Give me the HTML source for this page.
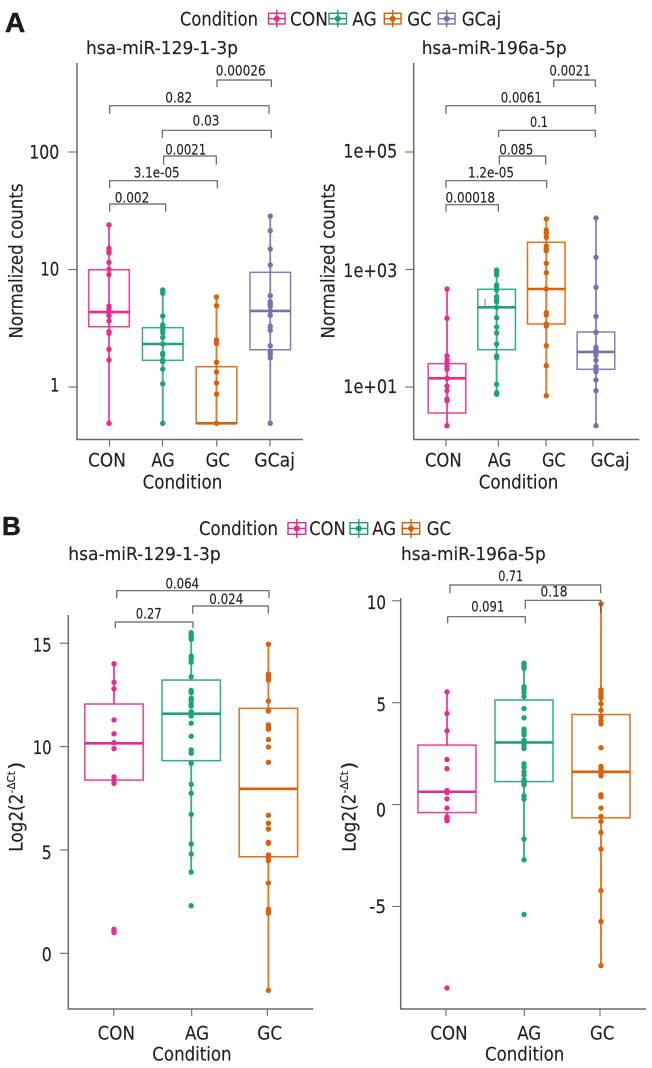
<!DOCTYPE html>
<html lang="en">
<head>
<meta charset="utf-8">
<title>miRNA expression boxplots</title>
<style>
html,body{margin:0;padding:0;background:#fff;width:652px;height:1068px;overflow:hidden}
svg{display:block}
text{font-family:"DejaVu Sans","Liberation Sans",sans-serif;fill:#231f1c;stroke:#231f1c;stroke-width:0.15}
</style>
</head>
<body>
<svg id="chart" xmlns="http://www.w3.org/2000/svg" width="652" height="1068" viewBox="0 0 652 1068">
  <rect x="0" y="0" width="652" height="1068" fill="#fff"/>

  <text x="5" y="32" style="font:bold 28px 'Liberation Sans',sans-serif;fill:#1d1a18;stroke:#1d1a18;stroke-width:0.5">A</text>
  <text x="2" y="535" style="font:bold 26px 'Liberation Sans',sans-serif;fill:#1d1a18;stroke:#1d1a18;stroke-width:0.5">B</text>

  <g>
    <text x="180" y="25.5" font-size="18.5" textLength="78" lengthAdjust="spacingAndGlyphs">Condition</text>
    <g stroke="#e7298a" fill="none" stroke-width="1.4"><rect x="268.5" y="13.3" width="16.5" height="10.7"/><path d="M276.8 10V27.3M268.5 18.7H285"/><circle cx="276.8" cy="18.7" r="2.3" fill="#e7298a"/></g>
    <text x="290" y="25.5" font-size="18.5" textLength="38" lengthAdjust="spacingAndGlyphs">CON</text>
    <g stroke="#1b9e77" fill="none" stroke-width="1.4"><rect x="329" y="13.3" width="17.5" height="10.7"/><path d="M337.8 10V27.3M329 18.7H346.5"/><circle cx="337.8" cy="18.7" r="2.3" fill="#1b9e77"/></g>
    <text x="352.3" y="25.5" font-size="18.5" textLength="24.4" lengthAdjust="spacingAndGlyphs">AG</text>
    <g stroke="#d95f02" fill="none" stroke-width="1.4"><rect x="384.3" y="13.3" width="16.7" height="10.7"/><path d="M392.7 10V27.3M384.3 18.7H401"/><circle cx="392.7" cy="18.7" r="2.3" fill="#d95f02"/></g>
    <text x="407.3" y="25.5" font-size="18.5" textLength="24.4" lengthAdjust="spacingAndGlyphs">GC</text>
    <g stroke="#7570b3" fill="none" stroke-width="1.4"><rect x="438.3" y="13.3" width="16.7" height="10.7"/><path d="M446.7 10V27.3M438.3 18.7H455"/><circle cx="446.7" cy="18.7" r="2.3" fill="#7570b3"/></g>
    <text x="461.7" y="25.5" font-size="18.5" textLength="39.5" lengthAdjust="spacingAndGlyphs">GCaj</text>
  </g>

  <g>
    <text x="199" y="535" font-size="18.5" textLength="79" lengthAdjust="spacingAndGlyphs">Condition</text>
    <g stroke="#e7298a" fill="none" stroke-width="1.4"><rect x="288" y="522.7" width="17.7" height="11.6"/><path d="M296.8 519V538M288 528.5H305.7"/><circle cx="296.8" cy="528.5" r="2.3" fill="#e7298a"/></g>
    <text x="309.3" y="535" font-size="18.5" textLength="36.4" lengthAdjust="spacingAndGlyphs">CON</text>
    <g stroke="#1b9e77" fill="none" stroke-width="1.4"><rect x="350" y="522.7" width="17.7" height="11.6"/><path d="M358.8 519V538M350 528.5H367.7"/><circle cx="358.8" cy="528.5" r="2.3" fill="#1b9e77"/></g>
    <text x="372.3" y="535" font-size="18.5" textLength="23.7" lengthAdjust="spacingAndGlyphs">AG</text>
    <g stroke="#d95f02" fill="none" stroke-width="1.4"><rect x="402.3" y="522.7" width="17.4" height="11.6"/><path d="M411 519V538M402.3 528.5H419.7"/><circle cx="411" cy="528.5" r="2.3" fill="#d95f02"/></g>
    <text x="426.7" y="535" font-size="18.5" textLength="24.3" lengthAdjust="spacingAndGlyphs">GC</text>
  </g>

  <text x="86" y="54" font-size="18" textLength="152" lengthAdjust="spacingAndGlyphs">hsa-miR-129-1-3p</text>
  <text x="421.7" y="54" font-size="18" textLength="145" lengthAdjust="spacingAndGlyphs">hsa-miR-196a-5p</text>
  <text x="68.3" y="560" font-size="18" textLength="152.4" lengthAdjust="spacingAndGlyphs">hsa-miR-129-1-3p</text>
  <text x="401" y="560" font-size="18" textLength="144.7" lengthAdjust="spacingAndGlyphs">hsa-miR-196a-5p</text>

  <text transform="translate(22.3,338.5) rotate(-90)" font-size="18.5" textLength="155" lengthAdjust="spacingAndGlyphs">Normalized counts</text>
  <text transform="translate(334.5,338.5) rotate(-90)" font-size="18.5" textLength="155" lengthAdjust="spacingAndGlyphs">Normalized counts</text>

  <g transform="translate(22.3,851.7) rotate(-90)">
    <text x="0" y="0" font-size="18.5" textLength="58" lengthAdjust="spacingAndGlyphs">Log2(2</text>
    <text x="58.5" y="-7.5" font-size="11" textLength="22" lengthAdjust="spacingAndGlyphs">-ΔCt</text>
    <text x="82" y="0" font-size="18.5" textLength="8" lengthAdjust="spacingAndGlyphs">)</text>
  </g>
  <g transform="translate(355.7,851.7) rotate(-90)">
    <text x="0" y="0" font-size="18.5" textLength="58" lengthAdjust="spacingAndGlyphs">Log2(2</text>
    <text x="58.5" y="-7.5" font-size="11" textLength="22" lengthAdjust="spacingAndGlyphs">-ΔCt</text>
    <text x="82" y="0" font-size="18.5" textLength="8" lengthAdjust="spacingAndGlyphs">)</text>
  </g>

  <text x="142.6" y="488.3" font-size="18.5" textLength="79.7" lengthAdjust="spacingAndGlyphs">Condition</text>
  <text x="478.7" y="488.3" font-size="18.5" textLength="79.7" lengthAdjust="spacingAndGlyphs">Condition</text>
  <text x="152.3" y="1060.7" font-size="18.5" textLength="79.3" lengthAdjust="spacingAndGlyphs">Condition</text>
  <text x="485" y="1060.7" font-size="18.5" textLength="79.3" lengthAdjust="spacingAndGlyphs">Condition</text>
</svg>

<script>
/* ---------- shared categories ---------- */
var conditionsA = ['CON', 'AG', 'GC', 'GCaj'];
var conditionsB = ['CON', 'AG', 'GC'];

/* ---------- Panel A, hsa-miR-129-1-3p (log10 normalized counts) ---------- */
var a1TickValues = [0, 1, 2];
var a1TickLabels = ['1', '10', '100'];
var a1Con = [1.379, 1.179, 1.16, 1.14, 1.061, 1.002, 0.956, 0.689, 0.661, 0.641, 0.607, 0.562, 0.471, 0.457, 0.321, 0.23, -0.309];
var a1Ag = [0.826, 0.811, 0.797, 0.604, 0.528, 0.508, 0.485, 0.462, 0.423, 0.366, 0.287, 0.272, 0.23, 0.215, 0.153, 0.028, -0.309];
var a1Gc = [0.766, 0.692, 0.4, 0.386, 0.369, 0.21, 0.128, 0.034, -0.06, -0.309];
var a1Gcaj = [1.455, 1.33, 1.174, 1.038, 0.777, 0.726, 0.705, 0.685, 0.647, 0.61, 0.517, 0.483, 0.351, 0.3, 0.281, 0.249, -0.309];
var a1Q1 = [0.513, 0.227, -0.309, 0.317];
var a1Median = [0.638, 0.366, -0.309, 0.647];
var a1Q3 = [0.998, 0.505, 0.173, 0.976];
var a1PValues = ['0.00026', '0.82', '0.03', '0.0021', '3.1e-05', '0.002'];

/* ---------- Panel A, hsa-miR-196a-5p (log10 normalized counts) ---------- */
var a2TickValues = [1, 3, 5];
var a2TickLabels = ['1e+01', '1e+03', '1e+05'];
var a2Con = [2.668, 2.169, 1.528, 1.46, 1.403, 1.346, 1.301, 1.148, 1.017, 0.937, 0.796, 0.767, 0.341];
var a2Ag = [2.991, 2.952, 2.906, 2.736, 2.697, 2.651, 2.537, 2.493, 2.452, 2.357, 2.18, 2.021, 1.919, 1.732, 1.528, 1.499, 1.046, 0.903, 0.876];
var a2Gc = [3.86, 3.672, 3.616, 3.548, 3.4, 3.344, 3.32, 3.106, 2.946, 2.668, 2.265, 2.226, 2.072, 2.038, 1.703, 1.363, 0.852];
var a2Gcaj = [3.877, 3.208, 2.697, 2.203, 1.931, 1.676, 1.63, 1.584, 1.54, 1.454, 1.346, 1.301, 1.26, 1.119, 0.937, 0.341];
var a2Q1 = [0.557, 1.635, 2.072, 1.301];
var a2Median = [1.148, 2.357, 2.668, 1.596];
var a2Q3 = [1.397, 2.663, 3.463, 1.936];
var a2PValues = ['0.0021', '0.0061', '0.1', '0.085', '1.2e-05', '0.00018'];

/* ---------- Panel B, hsa-miR-129-1-3p (Log2 2^-dCt) ---------- */
var b1TickValues = [0, 5, 10, 15];
var b1TickLabels = ['0', '5', '10', '15'];
var b1Con = [14.01, 13.11, 12.79, 11.29, 10.62, 10.19, 9.9, 8.54, 8.38, 8.22, 1.16, 1.08, 1.0];
var b1Ag = [15.51, 15.4, 15.29, 15.19, 14.38, 14.27, 14.08, 13.38, 12.72, 12.61, 12.34, 12.22, 12.06, 11.96, 11.69, 11.58, 11.48, 11.13, 10.5, 9.84, 9.68, 9.19, 8.18, 7.74, 6.72, 5.29, 4.8, 3.93, 2.3];
var b1Gc = [14.95, 13.51, 13.42, 13.3, 13.22, 12.2, 11.72, 11.05, 10.94, 10.84, 10.34, 9.98, 9.24, 6.68, 6.29, 6.01, 5.37, 5.32, 4.76, 4.63, 4.48, 3.4, 2.13, 2.01, 1.94, -1.79];
var b1Q1 = [8.38, 9.32, 4.67];
var b1Median = [10.16, 11.59, 7.96];
var b1Q3 = [12.06, 13.22, 11.85];
var b1WhiskerLow = [8.22, 3.93, -1.79];
var b1WhiskerHigh = [14.01, 15.6, 14.95];
var b1PValues = ['0.064', '0.024', '0.27'];

/* ---------- Panel B, hsa-miR-196a-5p (Log2 2^-dCt) ---------- */
var b2TickValues = [-5, 0, 5, 10];
var b2TickLabels = ['-5', '0', '5', '10'];
var b2Con = [5.53, 4.47, 3.62, 2.21, 1.76, 0.69, 0.59, 0.28, -0.17, -0.61, -0.7, -0.79, -9.0];
var b2Ag = [6.94, 6.86, 6.78, 6.69, 5.79, 5.68, 5.5, 5.3, 4.71, 4.26, 3.7, 3.54, 3.42, 3.15, 3.05, 2.9, 2.75, 2.0, 1.84, 1.62, 1.46, 1.22, 1.08, 0.97, 0.43, 0.27, -1.69, -2.71, -5.39];
var b2Gc = [9.85, 5.63, 5.5, 5.35, 5.23, 4.95, 4.64, 4.32, 4.12, 3.96, 2.79, 1.87, 1.74, 1.55, 1.41, 0.48, 0.38, -0.17, -0.58, -0.83, -1.37, -2.18, -4.22, -5.74, -7.9];
var b2Q1 = [-0.39, 1.13, -0.65];
var b2Median = [0.63, 3.05, 1.61];
var b2Q3 = [2.92, 5.13, 4.42];
var b2WhiskerLow = [-0.79, -2.71, -7.9];
var b2WhiskerHigh = [5.53, 6.94, 9.85];
var b2PValues = ['0.71', '0.18', '0.091'];

var seriesColors = ['#ec2a8e', '#1ba37a', '#de6004', '#7570b3'];
var axisColor = '#6f6964';
var bracketColor = '#66615d';
var NS = 'http://www.w3.org/2000/svg';
var root = document.getElementById('chart');

function make(tag, parent, attrs) {
  var el = document.createElementNS(NS, tag);
  for (var k in attrs) { el.setAttribute(k, attrs[k]); }
  parent.appendChild(el);
  return el;
}

function fitText(parent, cx, baseline, str, size, width) {
  var el = make('text', parent, {
    x: cx - width / 2, y: baseline, 'font-size': size,
    textLength: width, lengthAdjust: 'spacingAndGlyphs'
  });
  el.textContent = str;
  return el;
}

function drawPanel(id, cfg) {
  var g = make('g', root, {});
  
  

  function xPos(i) { return cfg.x0 + cfg.step * i; }
  function yPos(v) { return cfg.yRef - (v - cfg.refValue) * cfg.pxPerUnit; }

  /* axes */
  var yAxis = make('line', g, { x1: cfg.axisX, x2: cfg.axisX, y1: cfg.axisTop, y2: cfg.axisBottom, stroke: axisColor, 'stroke-width': 1.5 });
  
  
  var xAxis = make('line', g, { x1: cfg.axisX - 0.7, x2: cfg.axisRight, y1: cfg.axisBottom, y2: cfg.axisBottom, stroke: axisColor, 'stroke-width': 1.5 });
  
  

  /* y ticks */
  cfg.tickValues.forEach(function (v, i) {
    var y = yPos(v);
    var tick = make('line', g, { x1: cfg.axisX - 8.5, x2: cfg.axisX, y1: y, y2: y, stroke: axisColor, 'stroke-width': 1.1 });
    
    
    var w = cfg.tickWidths[i];
    var label = fitText(g, cfg.tickRight - w / 2, y + cfg.tickBase[i], cfg.tickLabels[i], 18.5, w);
    
    
  });

  /* x ticks */
  cfg.categories.forEach(function (c, i) {
    var tx = xPos(i) + cfg.tickShift[i];
    var tick = make('line', g, { x1: tx, x2: tx, y1: cfg.axisBottom, y2: cfg.axisBottom + 7, stroke: axisColor, 'stroke-width': 1.1 });
    
    
    var label = fitText(g, xPos(i) + cfg.labelShift[i], cfg.labelBase, c, 18.5, cfg.labelWidths[i]);
    
    
  });

  /* boxes, whiskers, points */
  cfg.categories.forEach(function (c, i) {
    var color = seriesColors[i];
    var x = xPos(i);
    var pts = cfg.points[i];
    var sg = make('g', g, {});
    
    

    if (cfg.whiskerLow) {
      var w1 = make('line', sg, { x1: x, x2: x, y1: yPos(cfg.q3[i]), y2: yPos(cfg.whiskerHigh[i]), stroke: color, 'stroke-width': 1.9, opacity: 0.85 });
      
      
      var w2 = make('line', sg, { x1: x, x2: x, y1: yPos(cfg.q1[i]), y2: yPos(cfg.whiskerLow[i]), stroke: color, 'stroke-width': 1.9, opacity: 0.85 });
      
      
    } else {
      var w3 = make('line', sg, { x1: x, x2: x, y1: yPos(Math.max.apply(null, pts)), y2: yPos(Math.min.apply(null, pts)), stroke: color, 'stroke-width': 1.9, opacity: 0.85 });
      
      
    }

    var box = make('rect', sg, {
      x: x - cfg.halfBox, y: yPos(cfg.q3[i]), width: cfg.halfBox * 2,
      height: yPos(cfg.q1[i]) - yPos(cfg.q3[i]),
      fill: 'none', stroke: color, 'stroke-width': 1.5, opacity: 0.9
    });
    
    

    var med = make('line', sg, { x1: x - cfg.halfBox, x2: x + cfg.halfBox, y1: yPos(cfg.median[i]), y2: yPos(cfg.median[i]), stroke: color, 'stroke-width': 2.6 });
    
    

    pts.forEach(function (v) {
      var dot = make('circle', sg, { cx: x, cy: yPos(v), r: 2.7, fill: color });
      
      
    });
  });

  /* significance brackets */
  cfg.pValues.forEach(function (p, i) {
    var b = cfg.brackets[i];
    var bg = make('g', g, {});
    
    
    make('path', bg, {
      d: 'M' + b.x1 + ' ' + b.tip + 'V' + b.y + 'H' + b.x2 + 'V' + (b.tip2 || b.tip),
      fill: 'none', stroke: bracketColor, 'stroke-width': 1.2
    });
    var t = fitText(bg, b.lx, b.base, p, 14.5, b.w);
    
    
  });
}

drawPanel('a-mir129', {
  categories: conditionsA, points: [a1Con, a1Ag, a1Gc, a1Gcaj],
  q1: a1Q1, median: a1Median, q3: a1Q3, pValues: a1PValues,
  tickValues: a1TickValues, tickLabels: a1TickLabels,
  x0: 109, step: 53.75, halfBox: 20.3,
  yRef: 387, refValue: 0, pxPerUnit: 117.5,
  axisX: 77, axisTop: 63, axisBottom: 439.5, axisRight: 303,
  tickRight: 59.3, tickWidths: [9, 19, 30], tickBase: [4.5, 6, 6.5],
  tickShift: [0.5, -0.25, 0.25, -0.25], labelShift: [-2, 0.3, 1.3, 4.4],
  labelWidths: [37.7, 23.3, 24.3, 40.7], labelBase: 466.7,
  brackets: [
    { x1: 217, x2: 271.3, y: 80, tip: 87, lx: 240.7, w: 50, base: 75.7 },
    { x1: 109.7, x2: 269, y: 105.7, tip: 113.7, lx: 178.7, w: 27, base: 102.7 },
    { x1: 162.3, x2: 271.3, y: 130.3, tip: 138.3, lx: 206, w: 27, base: 125.7 },
    { x1: 163.7, x2: 216.3, y: 156, tip: 164.7, lx: 185.7, w: 41, base: 154.3 },
    { x1: 109.7, x2: 217.3, y: 180.7, tip: 188.3, lx: 156.7, w: 46, base: 177.7 },
    { x1: 109.7, x2: 165.7, y: 204, tip: 211.7, lx: 132, w: 34.5, base: 202.3 }
  ]
});

drawPanel('a-mir196', {
  categories: conditionsA, points: [a2Con, a2Ag, a2Gc, a2Gcaj],
  q1: a2Q1, median: a2Median, q3: a2Q3, pValues: a2PValues,
  tickValues: a2TickValues, tickLabels: a2TickLabels,
  x0: 447, step: 49.65, halfBox: 18.8,
  yRef: 387, refValue: 1, pxPerUnit: 58.75,
  axisX: 413.7, axisTop: 63, axisBottom: 439.5, axisRight: 639.3,
  tickRight: 397.3, tickWidths: [54, 54, 54], tickBase: [6, 7.7, 5.5],
  tickShift: [-1, 1.65, -0.3, -3], labelShift: [-3.7, 2.9, 7.5, 14.2],
  labelWidths: [36.7, 23.7, 23.7, 39], labelBase: 466.7,
  brackets: [
    { x1: 553.7, x2: 595.3, y: 80, tip: 87, lx: 570, w: 41.3, base: 75.7 },
    { x1: 446, x2: 595.3, y: 105.7, tip: 113.7, lx: 521.3, w: 41, base: 102.7 },
    { x1: 498.7, x2: 595.3, y: 130.3, tip: 137, lx: 539, w: 18, base: 127 },
    { x1: 499.3, x2: 545.7, y: 156, tip: 164.7, lx: 516.3, w: 34, base: 154.7 },
    { x1: 446, x2: 546.7, y: 180.7, tip: 188.3, lx: 491, w: 46, base: 177.7 },
    { x1: 446, x2: 498.3, y: 204.7, tip: 211.7, lx: 470.3, w: 49.5, base: 202.3 }
  ]
});

drawPanel('b-mir129', {
  categories: conditionsB, points: [b1Con, b1Ag, b1Gc],
  q1: b1Q1, median: b1Median, q3: b1Q3, pValues: b1PValues,
  whiskerLow: b1WhiskerLow, whiskerHigh: b1WhiskerHigh,
  tickValues: b1TickValues, tickLabels: b1TickLabels,
  x0: 114, step: 77.2, halfBox: 29.2,
  yRef: 953.3, refValue: 0, pxPerUnit: 20.67,
  axisX: 68.3, axisTop: 615, axisBottom: 1009, axisRight: 313.3,
  tickRight: 51.7, tickWidths: [10, 10, 19, 19], tickBase: [7.7, 9, 7.6, 8.4],
  tickShift: [-0.3, 0.5, -1], labelShift: [2.3, 5.8, 1.3],
  labelWidths: [37.3, 24, 25], labelBase: 1039.3,
  brackets: [
    { x1: 116.7, x2: 269, y: 590.7, tip: 598.3, lx: 182.3, w: 33.7, base: 588.3 },
    { x1: 192.7, x2: 268.3, y: 606, tip: 613.7, lx: 226.3, w: 34, base: 604 },
    { x1: 115.3, x2: 193, y: 622, tip: 628.3, lx: 148.7, w: 26, base: 618.3 }
  ]
});

drawPanel('b-mir196', {
  categories: conditionsB, points: [b2Con, b2Ag, b2Gc],
  q1: b2Q1, median: b2Median, q3: b2Q3, pValues: b2PValues,
  whiskerLow: b2WhiskerLow, whiskerHigh: b2WhiskerHigh,
  tickValues: b2TickValues, tickLabels: b2TickLabels,
  x0: 447, step: 77, halfBox: 29,
  yRef: 804.6, refValue: 0, pxPerUnit: 20.38,
  axisX: 400.7, axisTop: 598, axisBottom: 1009, axisRight: 646,
  tickRight: 386, tickWidths: [16.7, 10, 9.5, 19.3], tickBase: [6.6, 12, 8.4, 8.3],
  tickShift: [-1, 0.3, -1], labelShift: [2, 5.2, 1.2],
  labelWidths: [37.3, 24, 24.3], labelBase: 1039.3,
  brackets: [
    { x1: 450, x2: 600.7, y: 585, tip: 593.3, lx: 510.7, w: 25, base: 581 },
    { x1: 525.3, x2: 600.7, y: 600.3, tip: 608.7, tip2: 613, lx: 554, w: 27, base: 596.7 },
    { x1: 447.7, x2: 525.3, y: 616.7, tip: 623.3, lx: 487.7, w: 33, base: 611.3 }
  ]
});

/* small stray mark visible inside the AG box of the miR-196a panel */
var stray = make('line', root, { x1: 485, x2: 485, y1: 299, y2: 307, stroke: '#7a746f', 'stroke-width': 1 });


</script>
</body>
</html>
